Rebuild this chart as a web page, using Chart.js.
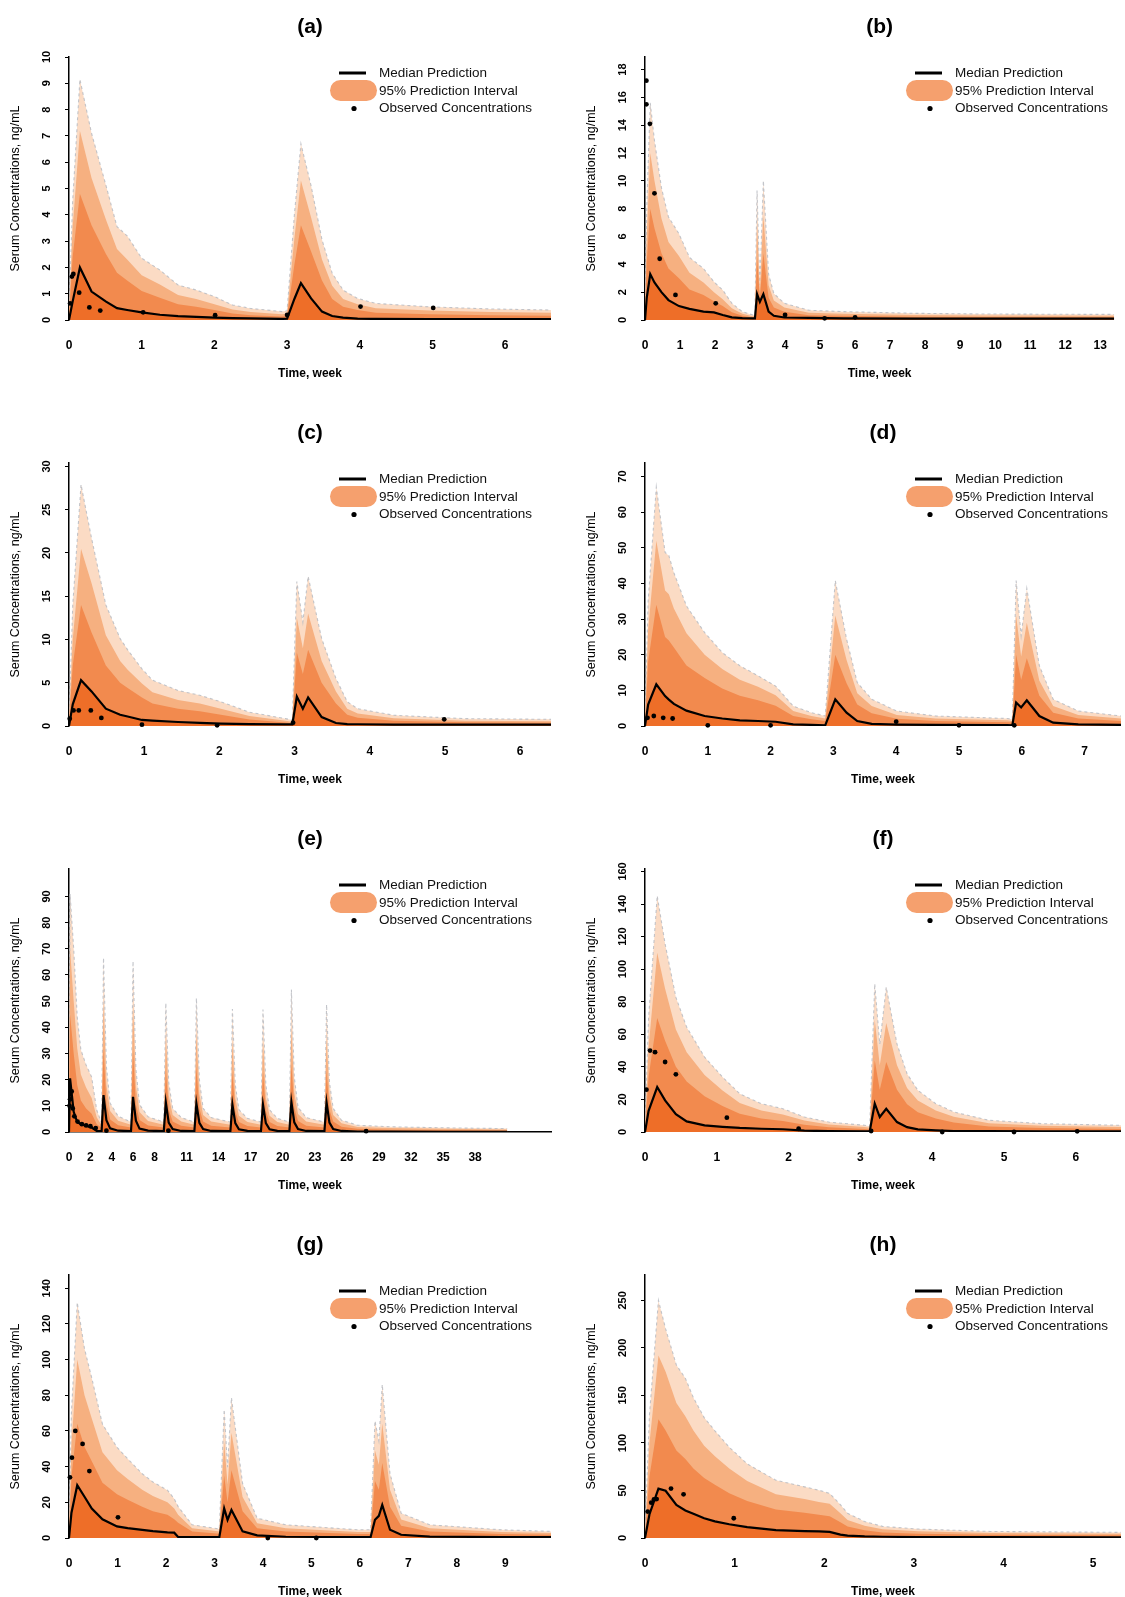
<!DOCTYPE html>
<html><head><meta charset="utf-8">
<script src="https://cdn.jsdelivr.net/npm/chart.js@4.4.1/dist/chart.umd.min.js"></script>
<style>
html,body{margin:0;padding:0;background:#fff;width:1125px;height:1597px;overflow:hidden;position:relative;}
.pn{position:absolute;}
</style></head><body>
<script>
// ---------- Panel (a) ----------
const tA   = [0, 0.05, 0.15, 0.31, 0.51, 0.66, 0.8, 1.0, 1.25, 1.5, 1.75, 2.0, 2.25, 2.5, 2.93, 3.0, 3.1, 3.19, 3.33, 3.48, 3.62, 3.77, 3.97, 4.22, 4.96, 5.8, 6.63];
const hiA  = [0.3, 4.5, 9.15, 7.1, 5.1, 3.55, 3.2, 2.35, 1.9, 1.33, 1.14, 0.89, 0.57, 0.44, 0.32, 0.35, 4.0, 6.7, 5.1, 3.05, 1.78, 1.14, 0.82, 0.63, 0.5, 0.42, 0.38];
const p90A = [0.2, 3.5, 7.2, 5.4, 3.8, 2.7, 2.3, 1.7, 1.35, 0.95, 0.8, 0.6, 0.4, 0.3, 0.22, 0.25, 3.1, 5.3, 3.9, 2.3, 1.3, 0.8, 0.6, 0.45, 0.36, 0.3, 0.28];
const p70A = [0.15, 2.4, 4.8, 3.6, 2.5, 1.8, 1.5, 1.1, 0.85, 0.6, 0.5, 0.38, 0.25, 0.18, 0.13, 0.15, 2.1, 3.6, 2.6, 1.5, 0.8, 0.5, 0.38, 0.28, 0.22, 0.18, 0.16];
const medA = [0, 0.7, 2.0, 1.08, 0.7, 0.45, 0.38, 0.29, 0.2, 0.15, 0.12, 0.09, 0.07, 0.06, 0.04, 0.05, 0.8, 1.4, 0.82, 0.32, 0.15, 0.09, 0.05, 0.04, 0.03, 0.03, 0.03];
const obsTA = [0.015, 0.04, 0.06, 0.14, 0.28, 0.43, 1.02, 2.01, 3.0, 4.01, 5.01];
const obsYA = [0.63, 1.65, 1.75, 1.04, 0.48, 0.36, 0.29, 0.18, 0.19, 0.51, 0.46];
const xTicksA = [0, 1, 2, 3, 4, 5, 6];
const yTicksA = [0, 1, 2, 3, 4, 5, 6, 7, 8, 9, 10];

// ---------- Panel (b) ----------
const tB   = [0, 0.05, 0.15, 0.27, 0.47, 0.67, 0.97, 1.27, 1.67, 1.97, 2.22, 2.48, 2.78, 3.08, 3.14, 3.2, 3.28, 3.38, 3.53, 3.68, 3.98, 4.68, 5.68, 7.69, 9.69, 13.4];
const hiB  = [0.5, 8, 15.6, 12.9, 9.5, 7.4, 6.2, 4.5, 3.7, 2.74, 2.15, 1.2, 0.6, 0.36, 0.4, 9.3, 2.5, 10.0, 3.3, 1.9, 1.2, 0.7, 0.6, 0.48, 0.43, 0.4];
const p90B = [0.4, 6, 12.0, 10.0, 7.3, 5.6, 4.6, 3.4, 2.7, 2.0, 1.5, 0.85, 0.45, 0.27, 0.3, 7.0, 2.0, 7.5, 2.5, 1.4, 0.9, 0.52, 0.45, 0.36, 0.32, 0.3];
const p70B = [0.3, 4.2, 8.0, 6.6, 4.8, 3.7, 3.0, 2.2, 1.8, 1.35, 1.0, 0.55, 0.3, 0.18, 0.2, 4.5, 1.6, 4.8, 1.6, 0.9, 0.6, 0.35, 0.3, 0.24, 0.21, 0.2];
const medB = [0, 1.6, 3.3, 2.7, 2.0, 1.43, 1.0, 0.8, 0.6, 0.55, 0.36, 0.19, 0.14, 0.12, 0.12, 1.86, 1.3, 1.86, 0.6, 0.3, 0.18, 0.15, 0.12, 0.1, 0.1, 0.1];
const obsTB = [0.04, 0.04, 0.14, 0.27, 0.42, 0.87, 2.02, 4.0, 5.13, 6.0];
const obsYB = [17.2, 15.5, 14.1, 9.1, 4.4, 1.8, 1.2, 0.36, 0.12, 0.19];
const xTicksB = [0, 1, 2, 3, 4, 5, 6, 7, 8, 9, 10, 11, 12, 13];
const yTicksB = [0, 2, 4, 6, 8, 10, 12, 14, 16, 18];

// ---------- Panel (c) ----------
const tC   = [0, 0.05, 0.16, 0.3, 0.49, 0.68, 0.78, 0.97, 1.11, 1.45, 1.74, 2.02, 2.4, 2.88, 2.97, 3.03, 3.11, 3.18, 3.36, 3.55, 3.7, 3.84, 4.32, 5.27, 6.41];
const hiC  = [0.5, 14, 27.9, 21.7, 14.0, 10.1, 8.8, 6.6, 5.3, 4.1, 3.55, 2.8, 1.6, 0.85, 0.7, 16.7, 12.0, 17.3, 10.1, 5.5, 2.8, 2.0, 1.24, 0.85, 0.77];
const p90C = [0.4, 10, 20.5, 16.5, 10.5, 7.5, 6.5, 4.9, 3.9, 3.0, 2.6, 2.0, 1.15, 0.6, 0.5, 12.5, 9.0, 13.0, 7.5, 4.0, 2.0, 1.45, 0.9, 0.62, 0.56];
const p70C = [0.3, 7, 14, 10.8, 7.0, 5.0, 4.4, 3.3, 2.6, 2.0, 1.7, 1.3, 0.75, 0.4, 0.33, 8.5, 6.0, 8.8, 5.0, 2.6, 1.3, 0.95, 0.6, 0.42, 0.38];
const medC = [0, 2.5, 5.3, 4.0, 2.0, 1.3, 1.1, 0.7, 0.62, 0.46, 0.36, 0.27, 0.22, 0.19, 0.19, 3.4, 2.0, 3.3, 1.04, 0.35, 0.22, 0.2, 0.16, 0.15, 0.15];
const obsTC = [0.01, 0.06, 0.13, 0.29, 0.43, 0.97, 1.97, 2.98, 4.99];
const obsYC = [0.85, 1.8, 1.8, 1.8, 0.93, 0.15, 0.08, 0.39, 0.77];
const xTicksC = [0, 1, 2, 3, 4, 5, 6];
const yTicksC = [0, 5, 10, 15, 20, 25, 30];

// ---------- Panel (d) ----------
const tD   = [0, 0.05, 0.18, 0.32, 0.38, 0.46, 0.66, 0.95, 1.23, 1.51, 1.8, 2.08, 2.36, 2.65, 2.87, 3.03, 3.21, 3.38, 3.61, 4.01, 4.63, 5.77, 5.85, 5.91, 5.99, 6.08, 6.28, 6.5, 6.9, 7.58];
const hiD  = [1, 35, 67, 48.7, 47.8, 43, 33.7, 26.2, 20.6, 16.9, 14.1, 11.2, 5.6, 3.75, 2.8, 40.8, 24.4, 12.2, 7.5, 4.2, 2.8, 2.1, 1.9, 40.8, 25.3, 38.6, 16.9, 7.5, 4.2, 2.8];
const p90D = [0.8, 27, 52, 38, 37, 33, 26, 20, 16, 13, 11, 8.6, 4.2, 2.8, 2.1, 31, 18.5, 9.2, 5.6, 3.1, 2.1, 1.6, 1.4, 31, 19.5, 29, 12.7, 5.6, 3.1, 2.1];
const p70D = [0.6, 18, 34, 25, 24, 22, 17, 13.5, 10.5, 8.5, 7.2, 5.7, 2.8, 1.9, 1.4, 20, 12, 6.0, 3.6, 2.0, 1.4, 1.05, 0.95, 20, 13, 19, 8.5, 3.7, 2.1, 1.4];
const medD = [0, 6, 11.7, 8.4, 7.4, 6.2, 4.3, 2.8, 2.1, 1.6, 1.4, 1.2, 0.45, 0.3, 0.2, 7.5, 3.75, 1.4, 0.6, 0.4, 0.3, 0.25, 0.2, 6.6, 5.2, 7.2, 2.8, 0.94, 0.45, 0.3];
const obsTD = [0.04, 0.14, 0.29, 0.44, 1.0, 2.0, 4.0, 5.0, 5.88];
const obsYD = [2.3, 2.8, 2.3, 2.1, 0.2, 0.2, 1.2, 0.2, 0.2];
const xTicksD = [0, 1, 2, 3, 4, 5, 6, 7];
const yTicksD = [0, 10, 20, 30, 40, 50, 60, 70];

// ---------- Panel (e) ----------
const tE   = [0, 0.1, 0.44, 0.77, 1.11, 1.6, 2.12, 2.6, 3.05,
  3.23, 3.5, 3.85, 4.6, 5.8,
  5.99, 6.26, 6.6, 7.4, 8.87,
  9.06, 9.33, 9.7, 10.5, 11.73,
  11.92, 12.2, 12.55, 13.3, 15.1,
  15.29, 15.56, 15.9, 16.7, 17.96,
  18.15, 18.42, 18.77, 19.5, 20.62,
  20.81, 21.08, 21.43, 22.2, 23.9,
  24.1, 24.37, 24.72, 25.5, 27, 30, 35, 41];
const hiE  = [5, 91, 70, 44, 31.4, 25.6, 21, 8.3, 3.5,
  66.6, 25, 11, 6, 3.8,
  65.3, 24, 10.5, 5.8, 3.8,
  49.3, 19, 9, 5.5, 3.8,
  51.2, 20, 9, 5.5, 3.8,
  47, 18, 8.5, 5.2, 3.8,
  46.8, 18, 8.5, 5.2, 3.8,
  54.4, 21, 9.5, 5.5, 3.8,
  48.7, 19, 9, 4.5, 2.6, 2.0, 1.6, 1.3];
const p90E = [4, 70, 50, 32, 22, 17, 13, 5.5, 2.6,
  50, 18, 8, 4.3, 2.8,
  49, 17.5, 7.6, 4.2, 2.8,
  37, 14, 6.5, 4, 2.8,
  38, 14.5, 6.5, 4, 2.8,
  35, 13, 6.2, 3.8, 2.8,
  35, 13, 6.2, 3.8, 2.8,
  40, 15, 6.9, 4, 2.8,
  36, 14, 6.5, 3.3, 1.9, 1.5, 1.2, 1.0];
const p70E = [3, 45, 30, 18, 12, 9, 7, 3, 1.6,
  32, 11, 4.8, 2.6, 1.7,
  31, 10.5, 4.6, 2.5, 1.7,
  24, 8.5, 4, 2.4, 1.7,
  25, 9, 4, 2.4, 1.7,
  23, 8, 3.8, 2.3, 1.7,
  23, 8, 3.8, 2.3, 1.7,
  26, 9.3, 4.2, 2.4, 1.7,
  23.5, 8.5, 4, 2, 1.2, 0.9, 0.75, 0.6];
const medE = [0, 20.5, 7.7, 3.8, 3.0, 2.4, 1.7, 0.4, 0.3,
  14.1, 4.5, 1.4, 0.5, 0.3,
  13.4, 4.3, 1.3, 0.5, 0.3,
  11.3, 3.6, 1.1, 0.4, 0.3,
  10.9, 3.5, 1.1, 0.4, 0.3,
  10.5, 3.4, 1.0, 0.4, 0.3,
  10.5, 3.4, 1.0, 0.4, 0.3,
  11.5, 3.7, 1.1, 0.4, 0.3,
  11.3, 3.6, 1.1, 0.4, 0.2, 0.15, 0.1, 0.1];
const obsTE = [0.05, 0.1, 0.25, 0.35, 0.5, 0.8, 1.2, 1.6, 2.0, 2.5, 3.5, 9.3, 27.8];
const obsYE = [10, 12.5, 15.5, 9, 6, 4, 3, 2.5, 2.2, 1.5, 0.5, 0.5, 0.3];
const xTicksE = [0, 2, 4, 6, 8, 11, 14, 17, 20, 23, 26, 29, 32, 35, 38];
const yTicksE = [0, 10, 20, 30, 40, 50, 60, 70, 80, 90];

// ---------- Panel (f) ----------
const tF   = [0, 0.05, 0.17, 0.28, 0.43, 0.58, 0.83, 1.08, 1.32, 1.62, 1.92, 2.22, 2.56, 3.06, 3.13, 3.2, 3.27, 3.36, 3.51, 3.65, 3.8, 4.05, 4.3, 4.79, 5.54, 6.63];
const hiF  = [2, 70, 145, 115.5, 82.8, 64.4, 46, 33.7, 23.5, 17.4, 14.3, 9.2, 6.1, 4.1, 3.5, 91, 54, 89, 54, 35.8, 25.6, 17.4, 12.3, 7.2, 5.1, 4.1];
const p90F = [1.5, 52, 110, 88, 63, 49, 35, 25.5, 17.8, 13.2, 10.8, 7, 4.6, 3.1, 2.6, 69, 41, 67, 41, 27, 19.4, 13.2, 9.3, 5.4, 3.8, 3.1];
const p70F = [1.0, 34, 70, 56, 40, 31, 22, 16, 11.2, 8.3, 6.8, 4.4, 2.9, 1.9, 1.6, 44, 26, 43, 26, 17, 12.2, 8.3, 5.9, 3.4, 2.4, 1.9];
const medF = [0, 13, 27.6, 19.4, 11, 6.5, 4.1, 3.2, 2.5, 2.0, 1.7, 0.8, 0.5, 0.4, 0.4, 17.4, 9.2, 14.3, 6.1, 3, 1.6, 1.0, 0.6, 0.5, 0.4, 0.4];
const obsTF = [0.02, 0.07, 0.14, 0.28, 0.43, 1.14, 2.14, 3.15, 4.14, 5.14, 6.02];
const obsYF = [26, 50, 49, 43, 35.4, 8.8, 2.0, 0.6, 0, 0, 0.4];
const xTicksF = [0, 1, 2, 3, 4, 5, 6];
const yTicksF = [0, 20, 40, 60, 80, 100, 120, 140, 160];

// ---------- Panel (g) ----------
const tG   = [0, 0.05, 0.17, 0.32, 0.47, 0.69, 0.99, 1.21, 1.51, 1.73, 2.03, 2.17, 2.25, 2.54, 2.99, 3.1, 3.2, 3.27, 3.35, 3.58, 3.88, 4.47, 5.96, 6.22, 6.31, 6.39, 6.46, 6.62, 6.85, 7.44, 8.92, 9.94];
const hiG  = [2, 70, 132, 106, 89.6, 63.8, 50.8, 44.4, 36, 31.4, 26.8, 22, 17.6, 7.4, 5.5, 5, 72, 39.7, 78.6, 30.5, 11.1, 7.4, 4.6, 4.6, 65.6, 54.5, 86, 36, 13.9, 7.4, 4.6, 3.7];
const p90G = [1.5, 52, 100, 80, 67, 48, 38, 33, 27, 23.5, 20, 16.5, 13, 5.5, 4.1, 3.7, 54, 30, 59, 23, 8.3, 5.5, 3.4, 3.4, 49, 41, 64, 27, 10.4, 5.5, 3.4, 2.8];
const p70G = [1, 34, 64, 51, 43, 31, 24.5, 21.5, 17.5, 15, 13, 10.5, 8.5, 3.6, 2.6, 2.4, 35, 20, 38, 15, 5.4, 3.6, 2.2, 2.2, 32, 27, 42, 17.5, 6.8, 3.6, 2.2, 1.8];
const medG = [0, 14, 29.6, 23.1, 16.5, 10.5, 6.5, 5.5, 4.6, 3.9, 3.2, 3.0, 0.6, 0.5, 0.5, 0.5, 16.6, 10.2, 15.7, 3.7, 1.5, 0.7, 0.5, 0.5, 10.2, 12.4, 18.5, 4.6, 1.8, 0.8, 0.5, 0.5];
const obsTG = [0.02, 0.06, 0.13, 0.28, 0.42, 1.01, 4.1, 5.1];
const obsYG = [34, 45, 60, 52.7, 37.5, 11.6, 0, 0];
const xTicksG = [0, 1, 2, 3, 4, 5, 6, 7, 8, 9];
const yTicksG = [0, 20, 40, 60, 80, 100, 120, 140];

// ---------- Panel (h) ----------
const tH   = [0, 0.05, 0.15, 0.23, 0.35, 0.45, 0.54, 0.66, 0.78, 0.94, 1.14, 1.46, 1.78, 1.94, 2.06, 2.18, 2.26, 2.45, 2.65, 3.05, 3.85, 5.31];
const hiH  = [3, 130, 250, 220, 182, 168, 147.6, 126.7, 112.8, 95.5, 78, 60.8, 53.8, 50.3, 46.9, 35, 26, 17.4, 12.2, 9.4, 6.9, 5.9];
const p90H = [2.5, 100, 192, 175, 142, 128, 113, 97, 86, 73, 60, 46, 41, 38, 36, 26, 19, 13, 9.2, 7, 5.2, 4.4];
const p70H = [2, 65, 125, 113, 92, 83, 73, 63, 56, 47, 39, 30, 26.5, 24.5, 23, 16.5, 12, 8.2, 5.8, 4.4, 3.3, 2.8];
const medH = [0, 25, 52, 49.7, 34.7, 29, 25.5, 20.8, 17.5, 14.5, 11.5, 8.3, 7.3, 6.9, 6.5, 3.5, 2.5, 1.7, 1.3, 1.0, 0.9, 0.8];
const obsTH = [0.03, 0.07, 0.1, 0.13, 0.29, 0.43, 0.99];
const obsYH = [27.8, 37.2, 40.6, 41, 52, 46, 20.8];
const xTicksH = [0, 1, 2, 3, 4, 5];
const yTicksH = [0, 50, 100, 150, 200, 250];

const panelLabels = ['(a)', '(b)', '(c)', '(d)', '(e)', '(f)', '(g)', '(h)'];
const xMaxes = [6.63, 13.4, 6.41, 7.58, 45.1, 6.63, 9.94, 5.31];
const yMaxes = [10, 18.9, 30.4, 73.8, 100.5, 161.5, 147.4, 276.7];
const legendTexts = ['Median Prediction', '95% Prediction Interval', 'Observed Concentrations'];
const xTitle = 'Time, week';
const yTitle = 'Serum Concentrations, ng/mL';

const panels = [
  {t:tA, hi:hiA, p90:p90A, p70:p70A, med:medA, ot:obsTA, oy:obsYA, xt:xTicksA, yt:yTicksA},
  {t:tB, hi:hiB, p90:p90B, p70:p70B, med:medB, ot:obsTB, oy:obsYB, xt:xTicksB, yt:yTicksB},
  {t:tC, hi:hiC, p90:p90C, p70:p70C, med:medC, ot:obsTC, oy:obsYC, xt:xTicksC, yt:yTicksC},
  {t:tD, hi:hiD, p90:p90D, p70:p70D, med:medD, ot:obsTD, oy:obsYD, xt:xTicksD, yt:yTicksD},
  {t:tE, hi:hiE, p90:p90E, p70:p70E, med:medE, ot:obsTE, oy:obsYE, xt:xTicksE, yt:yTicksE},
  {t:tF, hi:hiF, p90:p90F, p70:p70F, med:medF, ot:obsTF, oy:obsYF, xt:xTicksF, yt:yTicksF},
  {t:tG, hi:hiG, p90:p90G, p70:p70G, med:medG, ot:obsTG, oy:obsYG, xt:xTicksG, yt:yTicksG},
  {t:tH, hi:hiH, p90:p90H, p70:p70H, med:medH, ot:obsTH, oy:obsYH, xt:xTicksH, yt:yTicksH}
];

const FF = '"Liberation Sans", Arial, Helvetica, sans-serif';
const ROW_H = 406;

const deco = {
  id: 'deco',
  afterDraw(chart) {
    const info = chart.$info;
    const c = chart.ctx, a = chart.chartArea, ys = chart.scales.y;
    const cx = (a.left + a.right) / 2;
    c.save();
    c.fillStyle = '#000';
    c.textAlign = 'center';
    c.textBaseline = 'middle';
    c.font = 'bold 21px ' + FF;
    c.fillText(info.label, cx, 27);
    c.font = 'bold 12px ' + FF;
    c.fillText(xTitle, cx, 374);
    c.save();
    c.translate(16, (a.top + a.bottom) / 2);
    c.rotate(-Math.PI / 2);
    c.font = '12.5px ' + FF;
    c.fillText(yTitle, 0, 0);
    c.restore();
    c.font = 'bold 11px ' + FF;
    info.yt.forEach(v => {
      const y = ys.getPixelForValue(v);
      c.save();
      c.translate(47, y);
      c.rotate(-Math.PI / 2);
      c.fillText(String(v), 0, 0);
      c.restore();
    });
    c.strokeStyle = '#000';
    c.lineWidth = 3;
    c.beginPath(); c.moveTo(339, 73); c.lineTo(366, 73); c.stroke();
    c.fillStyle = '#F5A06E';
    c.beginPath();
    if (c.roundRect) { c.roundRect(330, 80, 47, 21, 10.5); } else { c.rect(330, 80, 47, 21); }
    c.fill();
    c.fillStyle = '#000';
    c.beginPath(); c.arc(354, 108.5, 2.6, 0, Math.PI * 2); c.fill();
    c.textAlign = 'left';
    c.font = '13.5px ' + FF;
    c.fillStyle = '#111';
    c.fillText(legendTexts[0], 379, 73.5);
    c.fillText(legendTexts[1], 379, 91);
    c.fillText(legendTexts[2], 379, 108.5);
    c.restore();
  }
};

panels.forEach((p, i) => {
  const col = i % 2, row = Math.floor(i / 2);
  const left = col ? 576 : 0;
  const w = col ? 549 : 562;
  const div = document.createElement('div');
  div.className = 'pn';
  div.style.left = left + 'px';
  div.style.top = (row * ROW_H) + 'px';
  div.style.width = w + 'px';
  div.style.height = ROW_H + 'px';
  const cv = document.createElement('canvas');
  cv.width = w; cv.height = ROW_H;
  cv.style.width = w + 'px'; cv.style.height = ROW_H + 'px';
  div.appendChild(cv);
  document.body.appendChild(div);

  const pts = arr => p.t.map((t, k) => ({x: t, y: arr[k]}));
  const isE = i === 4;
  new Chart(cv.getContext('2d'), {
    type: 'line',
    data: {
      datasets: [
        {label: 'obs', data: p.ot.map((t, k) => ({x: t, y: p.oy[k]})), showLine: false,
         pointRadius: 2.4, pointBackgroundColor: '#000', pointBorderWidth: 0, order: 0, clip: false},
        {label: 'median', data: pts(p.med), borderColor: '#000', borderWidth: 2.2,
         backgroundColor: 'rgb(238,110,40)', fill: 'origin', pointRadius: 0, order: 1},
        {label: 'p70', data: pts(p.p70), borderWidth: 0, borderColor: 'rgba(0,0,0,0)',
         backgroundColor: 'rgb(242,138,78)', fill: 'origin', pointRadius: 0, order: 2},
        {label: 'p90', data: pts(p.p90), borderWidth: 0, borderColor: 'rgba(0,0,0,0)',
         backgroundColor: 'rgb(246,176,128)', fill: 'origin', pointRadius: 0, order: 3},
        {label: 'hi', data: pts(p.hi), borderWidth: 1.1, borderColor: 'rgba(185,188,195,0.85)',
         borderDash: [3, 3], backgroundColor: 'rgb(251,219,196)', fill: 'origin', pointRadius: 0, order: 4}
      ]
    },
    options: {
      responsive: false,
      animation: false,
      devicePixelRatio: 1,
      layout: {padding: {top: 57, right: col ? 0 : 11, bottom: 0, left: 0}},
      plugins: {legend: {display: false}, tooltip: {enabled: false}, title: {display: false}},
      elements: {line: {tension: 0}},
      scales: {
        x: {
          type: 'linear', min: 0, max: xMaxes[i],
          border: {display: isE, color: '#000', width: 1.5},
          grid: {display: false, drawTicks: false},
          ticks: {autoSkip: false, maxRotation: 0, minRotation: 0, padding: 18, color: '#000',
                  font: {family: FF, size: 12, weight: 'bold'}, callback: v => String(v)},
          afterBuildTicks: s => { s.ticks = p.xt.map(v => ({value: v})); },
          afterFit: s => { s.height = 86; }
        },
        y: {
          type: 'linear', min: 0, max: yMaxes[i],
          border: {display: true, color: '#000', width: 1.5},
          grid: {display: true, drawOnChartArea: false, drawTicks: true, tickLength: 4, color: '#000', lineWidth: 1},
          ticks: {display: false},
          afterBuildTicks: s => { s.ticks = p.yt.map(v => ({value: v})); },
          afterFit: s => { s.width = 69; }
        }
      }
    },
    plugins: [{id: 'info', beforeInit(ch) { ch.$info = {label: panelLabels[i], yt: p.yt}; }}, deco]
  });
});
</script>
</body></html>
